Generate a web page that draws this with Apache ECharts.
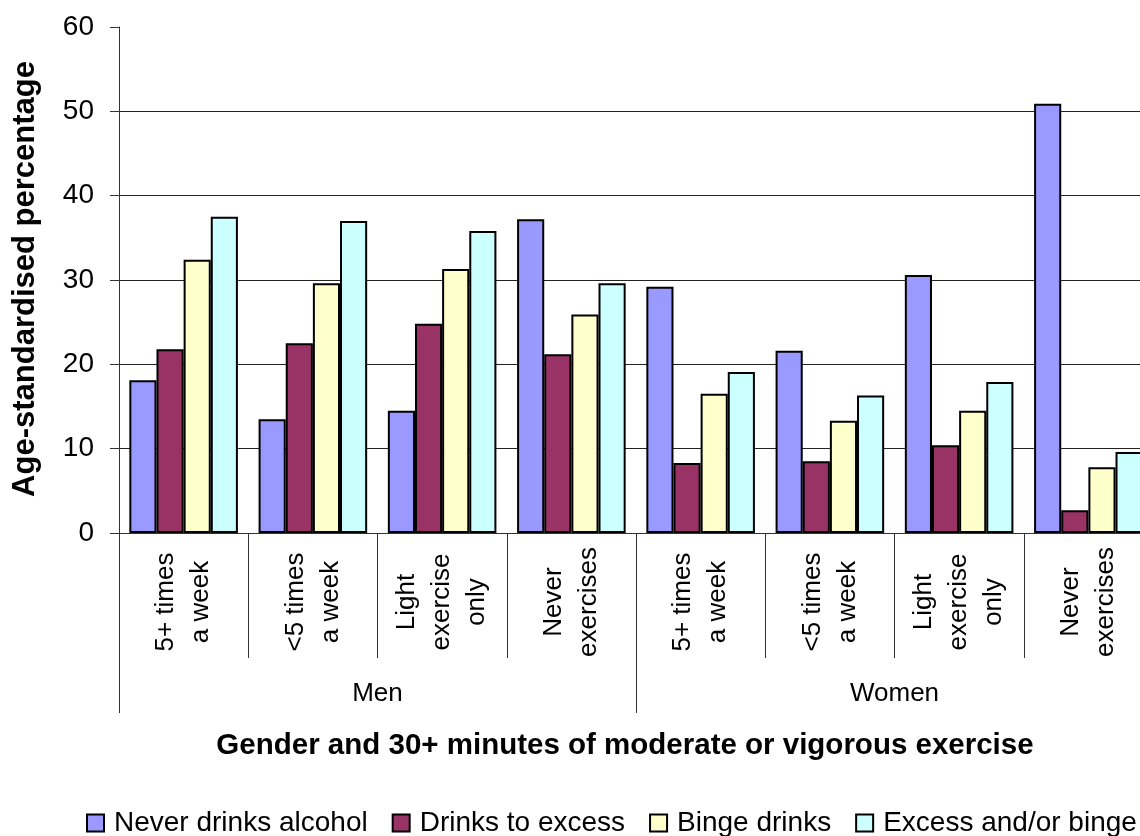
<!DOCTYPE html>
<html>
<head>
<meta charset="utf-8">
<script src="https://cdn.jsdelivr.net/npm/echarts@6/dist/echarts.min.js"></script>
<style>
  html, body { margin: 0; padding: 0; background: #fff; }
  #chart { width: 1140px; height: 836px; }
</style>
</head>
<body>
<div id="chart"></div>
<script>
// Exercise groups within each gender (two-line labels, read bottom to top)
const exerciseGroups = [
  '5+ times\na week', '<5 times\na week', 'Light\nexercise\nonly', 'Never\nexercises',
  '5+ times\na week', '<5 times\na week', 'Light\nexercise\nonly', 'Never\nexercises'
];
const genders = ['Men', 'Women'];
const seriesNames = ['Never drinks alcohol', 'Drinks to excess', 'Binge drinks', 'Excess and/or binge'];

// Age-standardised percentages, Men (first four) then Women (last four)
const neverDrinks    = [18.1, 13.5, 14.5, 37.2, 29.2, 21.6, 30.6, 50.9];
const drinksToExcess = [21.8, 22.5, 24.8, 21.2,  8.3,  8.5, 10.4,  2.7];
const bingeDrinks    = [32.4, 29.6, 31.3, 25.9, 16.5, 13.3, 14.5,  7.8];
const excessOrBinge  = [37.5, 37.0, 35.8, 29.6, 19.1, 16.3, 17.9,  9.6];

const yTicks = { min: 0, max: 60, interval: 10 };

const FONT = '"Liberation Sans", Arial, Helvetica, sans-serif';
const palette = ['#9999FF', '#993366', '#FFFFCC', '#CCFFFF'];
const seriesData = [neverDrinks, drinksToExcess, bingeDrinks, excessOrBinge];

const chart = echarts.init(document.getElementById('chart'), null, { renderer: 'canvas' });

const option = {
  animation: false,
  backgroundColor: '#ffffff',
  textStyle: { fontFamily: FONT, color: '#000' },
  // the plot runs slightly past the right edge of the canvas
  grid: {
    left: 119, width: 1034, top: 27, bottom: 303,
    containLabel: false, outerBoundsMode: 'none'
  },
  legend: {
    data: seriesNames,
    left: 81,
    top: 804,
    width: 1200,
    icon: 'rect',
    itemWidth: 17,
    itemHeight: 17,
    itemGap: 24,
    textStyle: { fontFamily: FONT, fontSize: 28, color: '#000', padding: [0, 0, 0, 5] }
  },
  xAxis: [
    {
      type: 'category',
      data: exerciseGroups,
      position: 'bottom',
      axisLine: { show: true, lineStyle: { color: '#333', width: 1 } },
      axisTick: { show: true, interval: 0, length: 125, lineStyle: { color: '#333', width: 1 } },
      axisLabel: {
        interval: 0,
        rotate: 90,
        align: 'center',
        verticalAlign: 'middle',
        margin: 69,
        lineHeight: 35,
        fontFamily: FONT,
        fontSize: 26,
        color: '#000'
      },
      splitLine: { show: false }
    },
    {
      type: 'category',
      data: genders,
      position: 'bottom',
      axisLine: { show: false },
      axisTick: { show: true, interval: 0, length: 180, lineStyle: { color: '#333', width: 1 } },
      axisLabel: { interval: 0, margin: 148, fontFamily: FONT, fontSize: 26, color: '#000' },
      splitLine: { show: false }
    }
  ],
  yAxis: {
    type: 'value',
    min: yTicks.min,
    max: yTicks.max,
    interval: yTicks.interval,
    axisLine: { show: true, lineStyle: { color: '#333', width: 1 } },
    axisTick: { show: true, length: 9, lineStyle: { color: '#333', width: 1 } },
    axisLabel: { margin: 25, fontFamily: FONT, fontSize: 28, color: '#000' },
    splitLine: { show: true, showMaxLine: false, lineStyle: { color: '#222', width: 1 } }
  },
  series: seriesNames.map((name, i) => ({
    name: name,
    type: 'bar',
    xAxisIndex: 0,
    data: seriesData[i],
    barGap: '0%',
    barCategoryGap: '16%',
    itemStyle: { color: palette[i], borderColor: '#000', borderWidth: 2 },
    emphasis: { disabled: true }
  })),
  graphic: [
    {
      type: 'text',
      x: 25,
      y: 279,
      rotation: Math.PI / 2,
      style: {
        text: 'Age-standardised percentage',
        fontFamily: FONT,
        fontSize: 31,
        fontWeight: 'bold',
        fill: '#000',
        align: 'center',
        verticalAlign: 'middle'
      }
    },
    {
      type: 'text',
      x: 625,
      y: 746,
      style: {
        text: 'Gender and 30+ minutes of moderate or vigorous exercise',
        fontFamily: FONT,
        fontSize: 29.5,
        fontWeight: 'bold',
        fill: '#000',
        align: 'center',
        verticalAlign: 'middle'
      }
    }
  ]
};

chart.setOption(option);
</script>
</body>
</html>
